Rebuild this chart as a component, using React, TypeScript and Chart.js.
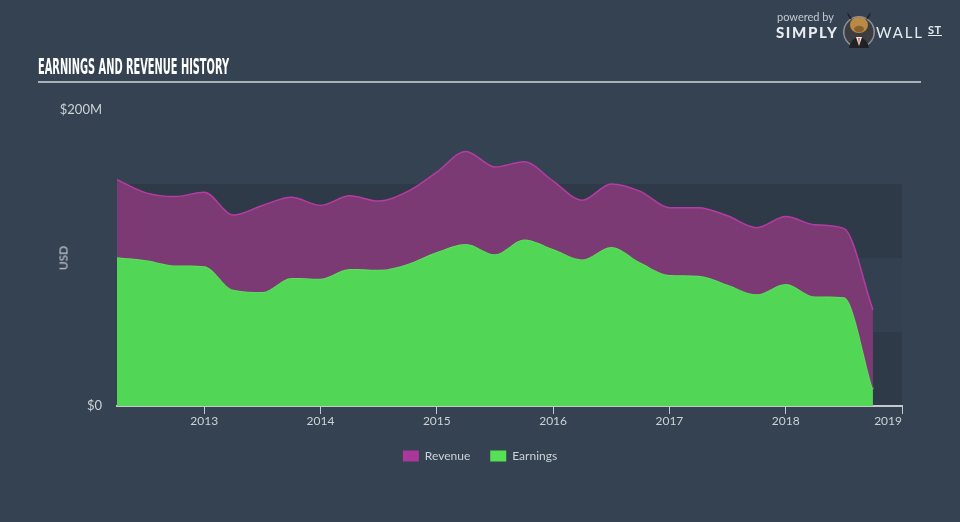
import React, { useEffect, useLayoutEffect, useRef } from "react";
import { Chart, registerables } from "chart.js";

Chart.register(...registerables);

// ---- data ----
const quarters = [
  2012.25, 2012.5, 2012.75, 2013.0, 2013.25, 2013.5, 2013.75, 2014.0, 2014.25,
  2014.5, 2014.75, 2015.0, 2015.25, 2015.5, 2015.75, 2016.0, 2016.25, 2016.5,
  2016.75, 2017.0, 2017.25, 2017.5, 2017.75, 2018.0, 2018.25, 2018.5, 2018.75,
];
const revenue = [
  153, 144, 141.5, 144.5, 129, 135.5, 141, 135.5, 142,
  138.5, 145, 158, 172, 161.5, 165, 152, 139, 150,
  145, 134, 134, 128.5, 120.5, 128, 122.5, 120, 65,
];
const earnings = [
  100.5, 98.5, 95, 94.5, 78.5, 77, 86.5, 86, 92.5,
  92, 96, 104, 109.5, 102.5, 112.5, 106, 99, 107.5,
  97, 88.5, 88, 82, 75.5, 82.5, 74, 73.5, 11.5,
];
const yearTicks = [2013, 2014, 2015, 2016, 2017, 2018, 2019];
const yTickValues = [0, 200];
const seriesLabels = ["Revenue", "Earnings"];
const bandRanges = [
  [0, 50],
  [50, 100],
  [100, 150],
];

// ---- styles ----
const BG = "#344252";
const BAND_COLORS = ["#2e3a48", "#324050", "#2e3a48"];
const TEXT = "#cdd2d7";
const AXIS = "#c3c8cd";
const REV_LINE = "#b53ca3";
const REV_FILL = "#7b3a74";
const EARN_LINE = "#5ee45c";
const EARN_FILL = "#52d655";
const LEGEND_COLORS = ["#a8399a", "#55e055"];
const FONT = "Lato, 'Open Sans', sans-serif";

const bandsPlugin = {
  id: "bands",
  beforeDraw(chart: any) {
    const { ctx, chartArea, scales } = chart;
    const y = scales.y;
    ctx.save();
    bandRanges.forEach((r, i) => {
      const top = y.getPixelForValue(r[1]);
      const bottom = y.getPixelForValue(r[0]);
      ctx.fillStyle = BAND_COLORS[i];
      ctx.fillRect(chartArea.left, top, chartArea.right - chartArea.left, bottom - top);
    });
    ctx.restore();
  },
  afterDraw(chart: any) {
    const { ctx, scales } = chart;
    const x = scales.x;
    ctx.save();
    ctx.font = `12px ${FONT}`;
    ctx.fillStyle = TEXT;
    ctx.textBaseline = "middle";
    yearTicks.forEach((v, i) => {
      const px = x.getPixelForValue(v);
      ctx.textAlign = i === yearTicks.length - 1 ? "right" : "center";
      ctx.fillText(String(v), px, x.top + 15);
    });
    ctx.restore();
  },
};

function ChartCanvas() {
  const ref = useRef<HTMLCanvasElement | null>(null);
  useEffect(() => {
    if (!ref.current) return;
    const chart = new Chart(ref.current, {
      type: "line",
      data: {
        datasets: [
          {
            label: seriesLabels[0],
            data: quarters.map((q, i) => ({ x: q, y: revenue[i] })),
            borderColor: REV_LINE,
            backgroundColor: REV_FILL,
            borderWidth: 1.5,
            fill: "+1",
            pointRadius: 0,
            cubicInterpolationMode: "monotone",
          },
          {
            label: seriesLabels[1],
            data: quarters.map((q, i) => ({ x: q, y: earnings[i] })),
            borderColor: EARN_LINE,
            backgroundColor: EARN_FILL,
            borderWidth: 1.5,
            fill: "origin",
            pointRadius: 0,
            cubicInterpolationMode: "monotone",
          },
        ],
      },
      options: {
        animation: false,
        responsive: false,
        maintainAspectRatio: false,
        layout: { padding: { top: 110, bottom: 50, left: 0, right: 0 } },
        plugins: {
          tooltip: { enabled: false },
          legend: {
            display: true,
            position: "bottom",
            labels: {
              boxWidth: 16,
              boxHeight: 11,
              padding: 20,
              color: TEXT,
              font: { family: FONT, size: 12 },
              generateLabels: (c: any) => {
                const items = (Chart.defaults.plugins.legend.labels as any).generateLabels(c);
                return items.map((it: any, i: number) => ({
                  ...it,
                  fillStyle: LEGEND_COLORS[i],
                  strokeStyle: LEGEND_COLORS[i],
                  lineWidth: 0,
                  fontColor: TEXT,
                }));
              },
            },
          },
        },
        scales: {
          x: {
            type: "linear",
            min: quarters[0],
            max: yearTicks[yearTicks.length - 1],
            afterBuildTicks: (s: any) => {
              s.ticks = yearTicks.map((v) => ({ value: v }));
            },
            afterFit: (s: any) => {
              s.height = 24;
            },
            grid: { drawOnChartArea: false, drawTicks: true, tickLength: 8, color: AXIS, lineWidth: 1 },
            border: { display: true, color: AXIS, width: 2 },
            ticks: { display: false },
          },
          y: {
            type: "linear",
            position: "left",
            min: 0,
            max: 200,
            afterBuildTicks: (s: any) => {
              s.ticks = yTickValues.map((v) => ({ value: v }));
            },
            afterFit: (s: any) => {
              s.width = 117;
            },
            grid: { display: false, drawTicks: false },
            border: { display: false },
            ticks: {
              padding: 15,
              color: TEXT,
              font: { family: FONT, size: 13 },
              callback: (v: any) => (Number(v) === 0 ? "$0" : `$${v}M`),
            },
          },
          yRight: {
            type: "linear",
            position: "right",
            afterFit: (s: any) => {
              s.width = 58;
            },
            grid: { display: false, drawTicks: false },
            border: { display: false },
            ticks: { display: false },
          },
        },
      } as any,
      plugins: [bandsPlugin],
    });
    return () => chart.destroy();
  }, []);
  return <canvas ref={ref} width={960} height={522} style={{ position: "absolute", left: 0, top: 0 }} />;
}

function Title() {
  const ref = useRef<HTMLSpanElement | null>(null);
  useLayoutEffect(() => {
    const el = ref.current;
    if (!el) return;
    el.style.transform = "none";
    const w = el.getBoundingClientRect().width;
    if (w > 0) el.style.transform = `scaleX(${191 / w})`;
  }, []);
  return (
    <span
      ref={ref}
      style={{
        position: "absolute",
        left: 38,
        top: 57,
        fontFamily: "'Liberation Sans Narrow', 'DejaVu Sans Condensed', sans-serif",
        fontWeight: 700,
        fontSize: 21,
        lineHeight: "21px",
        color: "#ffffff",
        whiteSpace: "nowrap",
        transformOrigin: "left top",
      }}
    >
      EARNINGS AND REVENUE HISTORY
    </span>
  );
}

function Logo() {
  return (
    <>
      <span style={{ position: "absolute", left: 777, top: 10, fontSize: 11, color: "#c5cad0", fontFamily: FONT, whiteSpace: "nowrap" }}>
        powered by
      </span>
      <span style={{ position: "absolute", left: 776, top: 23, fontSize: 15, fontWeight: 900, letterSpacing: 1.6, color: "#e8ebee", fontFamily: FONT, whiteSpace: "nowrap" }}>
        SIMPLY
      </span>
      <svg style={{ position: "absolute", left: 841, top: 8 }} width={36} height={42} viewBox="0 0 36 42">
        <circle cx={18} cy={24} r={16} fill="#8c9198" />
        <circle cx={18} cy={24} r={14.5} fill="#3b3d40" />
        <path d="M6 4 Q7 10 11 12 L10 9 Z" fill="#2a2118" />
        <path d="M30 4 Q29 10 25 12 L26 9 Z" fill="#2a2118" />
        <ellipse cx={18} cy={17} rx={9} ry={8} fill="#b98a45" />
        <ellipse cx={18} cy={21} rx={5} ry={3.2} fill="#8a5f2e" />
        <path d="M8 40 Q10 30 18 29 Q26 30 28 40 Z" fill="#1f2124" />
        <path d="M15 29 L18 38 L21 29 Z" fill="#e8e8e8" />
        <path d="M17.2 30 L18 37 L18.8 30 Z" fill="#d0402a" />
      </svg>
      <span style={{ position: "absolute", left: 876, top: 23, fontSize: 15, fontWeight: 400, letterSpacing: 1.8, color: "#e8ebee", fontFamily: FONT, whiteSpace: "nowrap" }}>
        WALL
      </span>
      <span
        style={{
          position: "absolute",
          left: 928,
          top: 24,
          fontSize: 11,
          fontWeight: 700,
          lineHeight: "11px",
          letterSpacing: 0.5,
          color: "#e8ebee",
          fontFamily: FONT,
          borderBottom: "1.5px solid #e8ebee",
          whiteSpace: "nowrap",
        }}
      >
        ST
      </span>
    </>
  );
}

export default function App() {
  return (
    <div
      style={{
        position: "absolute",
        left: 0,
        top: 0,
        width: 960,
        height: 522,
        background: BG,
        overflow: "hidden",
        fontFamily: FONT,
      }}
    >
      <ChartCanvas />
      <Title />
      <div style={{ position: "absolute", left: 38, top: 81, width: 883, height: 2, background: "#aab1b8" }} />
      <Logo />
      <span
        style={{
          position: "absolute",
          left: 63,
          top: 258,
          transform: "translate(-50%, -50%) rotate(-90deg)",
          fontSize: 12,
          color: TEXT,
          fontFamily: FONT,
          whiteSpace: "nowrap",
        }}
      >
        USD
      </span>
    </div>
  );
}
